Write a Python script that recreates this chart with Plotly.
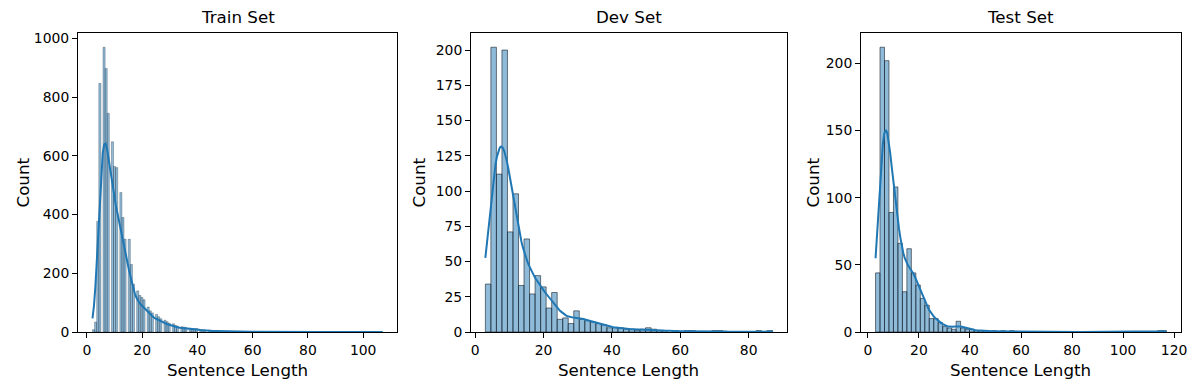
import numpy as np
import plotly.graph_objects as go

# ---------------- data ----------------
# Train set: frequency of each sentence length (lengths 2..107)
TRAIN_LENGTHS = list(range(2, 108))
TRAIN_FREQ = [
    8, 34, 377, 847, 970, 898, 745, 648, 564, 560,      # 2-11
    475, 390, 316, 316, 230, 163, 140, 125, 118, 110,   # 12-21
    85, 72, 65, 60, 52, 45, 40, 35, 30, 28,             # 22-31
    22, 20, 18, 17, 15, 13, 12, 11, 12, 8,              # 32-41
    7, 6, 6, 5, 5, 4, 4, 3, 3, 3,                       # 42-51
    2, 2, 2, 2, 2, 1, 2, 1, 1, 1,                       # 52-61
    1, 0, 1, 1, 0, 1, 0, 1, 0, 1,                       # 62-71
    0, 0, 1, 0, 0, 1, 0, 0, 1, 0,                       # 72-81
    0, 0, 1, 0, 0, 0, 0, 1, 0, 0,                       # 82-91
    0, 0, 1, 0, 0, 0, 0, 0, 0, 1,                       # 92-101
    0, 0, 0, 0, 0, 1,                                   # 102-107
]
TRAIN_NBINS = 138

# Dev set: histogram bin counts over [3, 87]
DEV_RANGE = (3, 87)
DEV_COUNTS = [
    34, 202, 112, 200, 71, 98, 33, 66, 27, 40,
    32, 17, 28, 9, 10, 6, 15, 9, 8, 7,
    6, 5, 3, 3, 3, 2, 2, 1, 2, 3,
    2, 1, 1, 0, 1, 0, 1, 1, 0, 0,
    0, 1, 1, 0, 0, 0, 0, 0, 0, 1,
    0, 1,
]

# Test set: histogram bin counts over [3, 117]
TEST_RANGE = (3, 117)
TEST_COUNTS = [
    44, 212, 202, 89, 108, 66, 30, 62, 44, 35,
    25, 20, 10, 10, 7, 4, 3, 2, 8, 3,
    2, 2, 1, 1, 1, 0, 1, 0, 1, 0,
    1, 0, 0, 0, 0, 0, 0, 0, 0, 0,
    0, 0, 0, 0, 0, 0, 0, 0, 0, 0,
    0, 0, 0, 0, 0, 0, 0, 0, 0, 0,
    0, 0, 0, 1, 1,
]

PANEL_TITLES = ["Train Set", "Dev Set", "Test Set"]
X_LABEL = "Sentence Length"
Y_LABEL = "Count"
X_TICKS = [[0, 20, 40, 60, 80, 100], [0, 20, 40, 60, 80], [0, 20, 40, 60, 80, 100, 120]]
Y_TICKS = [[0, 200, 400, 600, 800, 1000], [0, 25, 50, 75, 100, 125, 150, 175, 200], [0, 50, 100, 150, 200]]

# ---------------- helpers ----------------
W, H = 1196, 390
X_DOM_PX = [(78, 397), (471, 787), (861, 1181)]
Y_TOP_PX, Y_BOT_PX = 33, 332
YLABEL_X_PX = [22, 418, 812]

FONT = "DejaVu Sans"
C0 = "#1f77b4"
BAR_FILL = "rgba(31,119,180,0.5)"


def kde_curve(points, weights, lo, hi, binwidth, gridsize=200):
    points = np.asarray(points, float)
    weights = np.asarray(weights, float)
    n = weights.sum()
    mean = np.sum(weights * points) / n
    var = np.sum(weights * (points - mean) ** 2) / (n - 1)
    h = np.sqrt(var) * n ** (-1 / 5)
    grid = np.linspace(lo, hi, gridsize)
    z = (grid[:, None] - points[None, :]) / h
    dens = (weights[None, :] * np.exp(-0.5 * z * z)).sum(axis=1) / (n * h * np.sqrt(2 * np.pi))
    return grid, dens * n * binwidth


panels = []
# train
t_lo, t_hi = min(TRAIN_LENGTHS), max(TRAIN_LENGTHS)
t_edges = np.linspace(t_lo, t_hi, TRAIN_NBINS + 1)
t_counts, _ = np.histogram(TRAIN_LENGTHS, bins=t_edges, weights=TRAIN_FREQ)
t_w = t_edges[1] - t_edges[0]
kx, ky = kde_curve(TRAIN_LENGTHS, TRAIN_FREQ, t_lo, t_hi, t_w)
panels.append((t_edges, t_counts, t_w, kx, ky, t_lo, t_hi, 0.35))

for rng, cnts, lw in [(DEV_RANGE, DEV_COUNTS, 0.7), (TEST_RANGE, TEST_COUNTS, 0.7)]:
    lo, hi = rng
    edges = np.linspace(lo, hi, len(cnts) + 1)
    w = edges[1] - edges[0]
    centers = (edges[:-1] + edges[1:]) / 2
    kx, ky = kde_curve(centers, cnts, lo, hi, w)
    panels.append((edges, np.asarray(cnts, float), w, kx, ky, lo, hi, lw))

fig = go.Figure()
annotations = []
y_dom = [1 - Y_BOT_PX / H, 1 - Y_TOP_PX / H]

for i, (edges, counts, w, kx, ky, lo, hi, lw) in enumerate(panels):
    ax = "" if i == 0 else str(i + 1)
    mask = counts > 0
    fig.add_trace(go.Bar(
        x=edges[:-1][mask], y=counts[mask], width=w, offset=0,
        marker=dict(color=BAR_FILL, line=dict(color="rgba(20,30,40,0.85)", width=lw)),
        xaxis="x" + ax, yaxis="y" + ax, showlegend=False, hoverinfo="skip",
    ))
    fig.add_trace(go.Scatter(
        x=kx, y=ky, mode="lines", line=dict(color=C0, width=2),
        xaxis="x" + ax, yaxis="y" + ax, showlegend=False, hoverinfo="skip",
    ))
    span = hi - lo
    ymax = max(counts.max(), ky.max()) * 1.05
    xd = [X_DOM_PX[i][0] / W, X_DOM_PX[i][1] / W]
    axis_common = dict(
        showline=True, mirror=True, linecolor="black", linewidth=1,
        ticks="outside", ticklen=5, tickwidth=1, tickcolor="black",
        showgrid=False, zeroline=False, automargin=False,
        tickfont=dict(family=FONT, size=13.9, color="black"),
    )
    fig.update_layout(**{
        "xaxis" + ax: dict(domain=xd, range=[lo - 0.05 * span, hi + 0.05 * span],
                           tickmode="array", tickvals=X_TICKS[i], anchor="y" + ax, **axis_common),
        "yaxis" + ax: dict(domain=y_dom, range=[0, ymax],
                           tickmode="array", tickvals=Y_TICKS[i], anchor="x" + ax, **axis_common),
    })
    cx = (xd[0] + xd[1]) / 2
    annotations.append(dict(text=PANEL_TITLES[i], x=cx, y=y_dom[1], xref="paper", yref="paper",
                            xanchor="center", yanchor="bottom", yshift=4, showarrow=False,
                            font=dict(family=FONT, size=16.7, color="black")))
    annotations.append(dict(text=X_LABEL, x=cx, y=1 - 370 / H, xref="paper", yref="paper",
                            xanchor="center", yanchor="middle", showarrow=False,
                            font=dict(family=FONT, size=16.7, color="black")))
    annotations.append(dict(text=Y_LABEL, x=YLABEL_X_PX[i] / W, y=(y_dom[0] + y_dom[1]) / 2,
                            xref="paper", yref="paper", xanchor="center", yanchor="middle",
                            textangle=-90, showarrow=False,
                            font=dict(family=FONT, size=16.7, color="black")))

fig.update_layout(
    width=W, height=H, margin=dict(l=0, r=0, t=0, b=0, pad=0, autoexpand=False),
    paper_bgcolor="white", plot_bgcolor="white",
    barmode="overlay", annotations=annotations,
    font=dict(family=FONT, color="black"),
)

fig.write_html("out.html")
